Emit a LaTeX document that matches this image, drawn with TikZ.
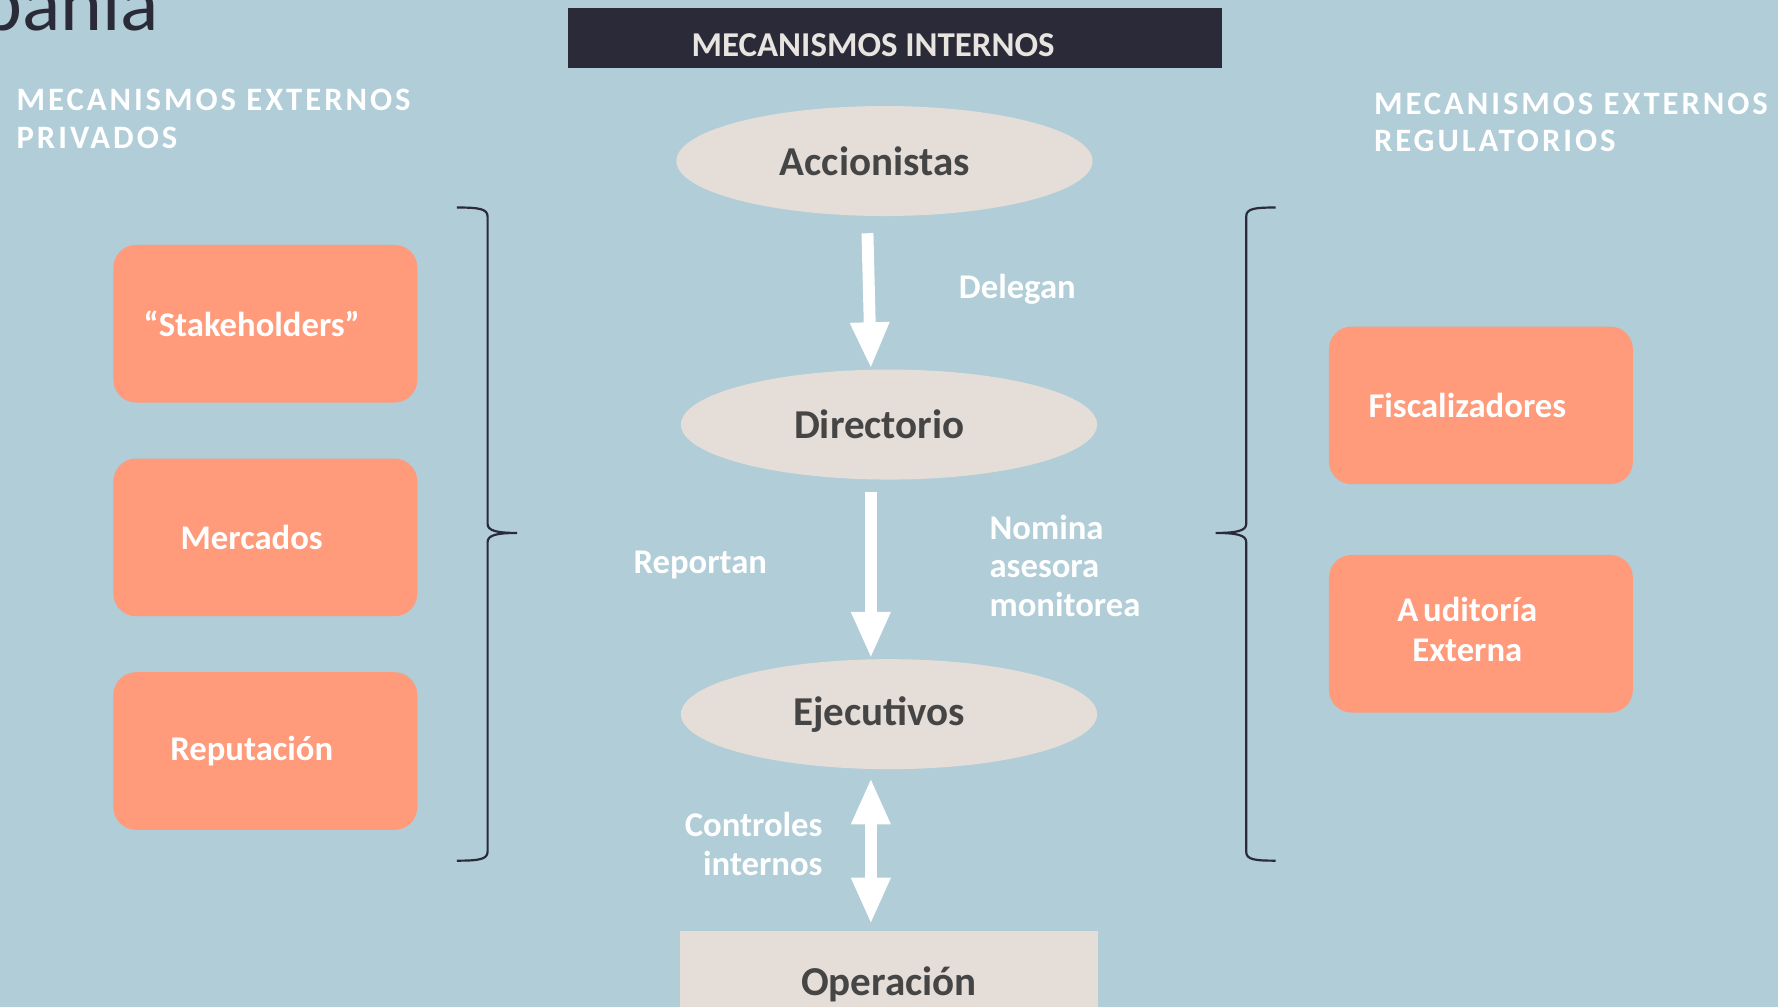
\documentclass[tikz,border=0pt]{standalone}
\usepackage{fontspec}
\setmainfont{Carlito}
\usetikzlibrary{positioning,shapes.geometric,arrows.meta}

\definecolor{fondo}{HTML}{B0CDD8}
\definecolor{crema}{HTML}{E5DDD8}
\definecolor{salmon}{HTML}{FF9A7A}
\definecolor{oscuro}{HTML}{2B2A38}
\definecolor{gristxt}{HTML}{454545}
\definecolor{clarotxt}{HTML}{E8E4E0}

\tikzset{
  organo/.style={ellipse, fill=crema, minimum width=3.67cm, minimum height=0.97cm,
    inner sep=0pt, text=gristxt, font=\fontsize{10.3}{12}\selectfont\bfseries,
    execute at end node={\hspace*{0.17cm}}},
  caja/.style={rectangle, rounded corners=0.2cm, fill=salmon, minimum width=2.68cm,
    minimum height=1.39cm, text=white, align=center,
    font=\fontsize{8.7}{10}\selectfont\bfseries,
    execute at end node={\hspace*{0.24cm}}},
  etiq/.style={text=white, inner sep=0pt, font=\fontsize{8.7}{9.7}\selectfont\bfseries},
  titulo/.style={text=white, inner sep=0pt, align=left,
    font=\fontsize{8.2}{9.4}\selectfont\bfseries\addfontfeature{LetterSpace=9}},
  flecha/.style={draw=white, line width=0.105cm, >={Triangle[width=0.32cm,length=0.41cm]}},
  llave/.style={draw=oscuro, line width=0.55pt},
}

\begin{document}
\begin{tikzpicture}

\useasboundingbox (0,0) rectangle (15.68,8.88);
\clip (0,0) rectangle (15.68,8.88);
\fill[fondo] (0,0) rectangle (15.68,8.88);

% Title (cut by the frame)
\node[anchor=base west, inner sep=0pt, text=oscuro, font=\fontsize{20}{24}\selectfont] (ttl) at (-0.18,8.61) {pañía};

% Headers
\node[fill=oscuro, minimum width=5.77cm, minimum height=0.53cm, inner sep=0pt] (intern) at (7.895,8.545) {};
\node[text=clarotxt, inner sep=0pt, font=\fontsize{8.75}{10}\selectfont\bfseries] (interntxt) at (7.70,8.48) {MECANISMOS INTERNOS};
\node[titulo, anchor=west] (extpriv) at (0.14,7.83) {MECANISMOS EXTERNOS\\PRIVADOS};
\node[titulo, anchor=west] (extreg) at (12.11,7.80) {MECANISMOS EXTERNOS\\REGULATORIOS};

% Internal chain
\node[organo]                                   (acc)  at (7.80,7.46) {Accionistas};
\node[organo, below=1.34cm of acc, xshift=0.04cm] (dir)  {Directorio};
\node[organo, below=1.57cm of dir]              (ejec) {Ejecutivos};
\node[rectangle, fill=crema, minimum width=3.69cm, minimum height=0.94cm, inner sep=0pt,
  text=gristxt, font=\fontsize{10.3}{12}\selectfont\bfseries,
  below=1.41cm of ejec]                         (op)   {Operación};

% Arrows
\draw[flecha,->] ([xshift=-0.15cm,yshift=-0.145cm]acc.south) -- ([xshift=-0.16cm]dir.north);
\draw[flecha,->] ([xshift=-0.16cm,yshift=-0.105cm]dir.south) -- ([xshift=-0.16cm]ejec.north);
\draw[flecha,<->] ([xshift=-0.16cm,yshift=-0.07cm]ejec.south) -- ([xshift=-0.16cm,yshift=0.05cm]op.north);

% Arrow labels
\node[etiq, anchor=west] (deleg) at (8.45,6.33) {Delegan};
\node[etiq, anchor=west] (repor) at (5.58,3.90) {Reportan};
\node[etiq, anchor=west, align=left] (nomin) at (8.72,3.89) {Nomina\\asesora\\monitorea};
\node[etiq, anchor=east, align=right] (contr) at (7.26,1.44) {Controles\\internos};

% Private mechanisms
\node[caja]                       (stake) at (2.34,6.025) {“Stakeholders”};
\node[caja, below=0.48cm of stake] (merc)  {Mercados};
\node[caja, below=0.48cm of merc]  (repu)  {Reputación};

% Regulatory mechanisms
\node[caja]                       (fisc)  at (13.06,5.305) {Fiscalizadores};
\node[caja, below=0.61cm of fisc]  (audit) {\begin{tabular}{@{}c@{}}A\kern1.2pt uditoría\\Externa\end{tabular}};

% Braces
\draw[llave] (4.03,7.05) .. controls (4.22,7.05) and (4.30,7.04) .. (4.30,6.97)
  -- (4.30,4.26) .. controls (4.30,4.20) and (4.38,4.18) .. (4.56,4.18)
  .. controls (4.38,4.18) and (4.30,4.16) .. (4.30,4.10)
  -- (4.30,1.37) .. controls (4.30,1.30) and (4.22,1.29) .. (4.03,1.29);
\draw[llave] (11.25,7.05) .. controls (11.06,7.05) and (10.99,7.04) .. (10.99,6.97)
  -- (10.99,4.26) .. controls (10.99,4.20) and (10.91,4.18) .. (10.72,4.18)
  .. controls (10.91,4.18) and (10.99,4.16) .. (10.99,4.10)
  -- (10.99,1.37) .. controls (10.99,1.30) and (11.06,1.29) .. (11.25,1.29);

\end{tikzpicture}
\end{document}
